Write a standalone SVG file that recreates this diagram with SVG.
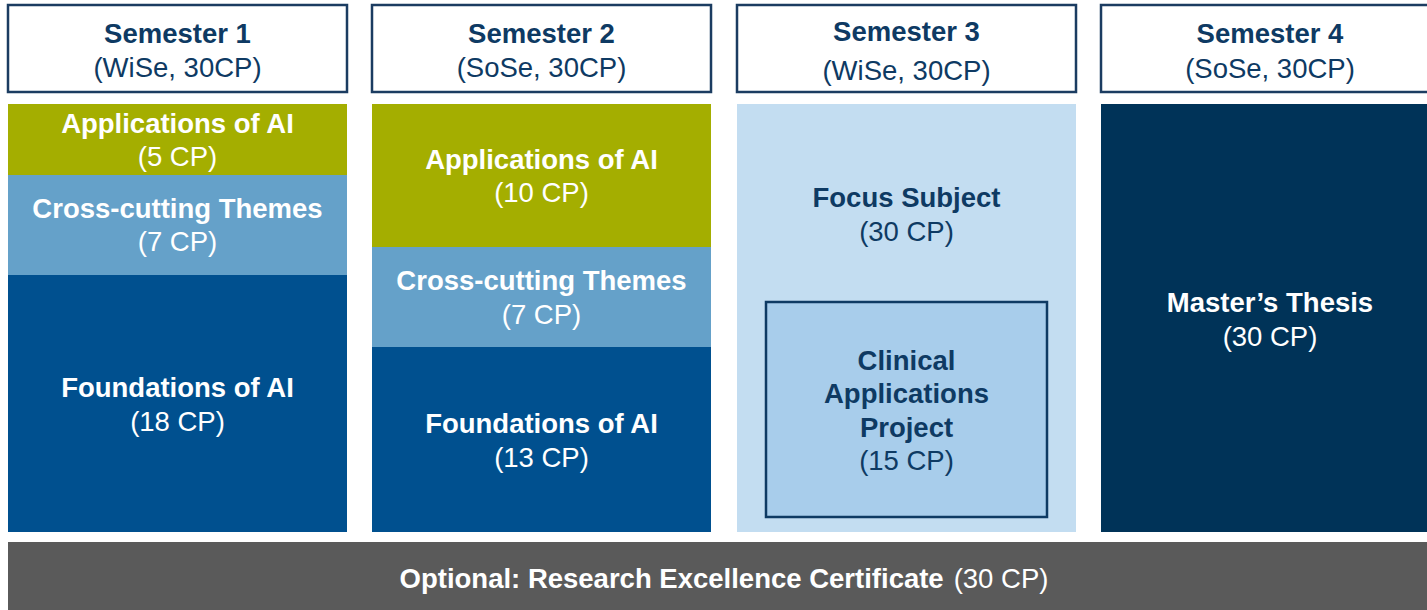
<svg xmlns="http://www.w3.org/2000/svg" width="1427" height="610" viewBox="0 0 1427 610">
<style>
text{font-family:"Liberation Sans",Arial,sans-serif;font-size:27.5px;text-anchor:middle}
.b{font-weight:bold}
.hdr{fill:#fff;stroke:#1b3c61;stroke-width:2.5}
.dk{fill:#0e3a63}
.wt{fill:#fff}
.green{fill:#a4ae00}
.lb{fill:#65a1c9}
.fd{fill:#00508f}
</style>
<rect width="1427" height="610" fill="#fff"/>
<g id="sem1">
<rect class="hdr" x="8" y="5" width="339" height="87"/>
<text class="b dk" x="177.5" y="43">Semester 1</text>
<text class="dk" x="177.5" y="77">(WiSe, 30CP)</text>
</g>
<g id="sem2">
<rect class="hdr" x="372" y="5" width="339" height="87"/>
<text class="b dk" x="541.5" y="43">Semester 2</text>
<text class="dk" x="541.5" y="77">(SoSe, 30CP)</text>
</g>
<g id="sem3">
<rect class="hdr" x="737" y="5" width="339" height="87"/>
<text class="b dk" x="906.5" y="41">Semester 3</text>
<text class="dk" x="906.5" y="80">(WiSe, 30CP)</text>
</g>
<g id="sem4">
<rect class="hdr" x="1101" y="5" width="340" height="87"/>
<text class="b dk" x="1270" y="43">Semester 4</text>
<text class="dk" x="1270" y="78">(SoSe, 30CP)</text>
</g>
<g id="s1-app">
<rect class="green" x="8" y="104" width="339" height="71"/>
<text class="b wt" x="177.5" y="133">Applications of AI</text>
<text class="wt" x="177.5" y="166">(5 CP)</text>
</g>
<g id="s1-cross">
<rect class="lb" x="8" y="175" width="339" height="100"/>
<text class="b wt" x="177.5" y="218">Cross-cutting Themes</text>
<text class="wt" x="177.5" y="251">(7 CP)</text>
</g>
<g id="s1-found">
<rect class="fd" x="8" y="275" width="339" height="257"/>
<text class="b wt" x="177.5" y="397">Foundations of AI</text>
<text class="wt" x="177.5" y="431">(18 CP)</text>
</g>
<g id="s2-app">
<rect class="green" x="372" y="104" width="339" height="143"/>
<text class="b wt" x="541.5" y="169">Applications of AI</text>
<text class="wt" x="541.5" y="202">(10 CP)</text>
</g>
<g id="s2-cross">
<rect class="lb" x="372" y="247" width="339" height="100"/>
<text class="b wt" x="541.5" y="290">Cross-cutting Themes</text>
<text class="wt" x="541.5" y="324">(7 CP)</text>
</g>
<g id="s2-found">
<rect class="fd" x="372" y="347" width="339" height="185"/>
<text class="b wt" x="541.5" y="433">Foundations of AI</text>
<text class="wt" x="541.5" y="467">(13 CP)</text>
</g>
<g id="s3-focus">
<rect x="737" y="104" width="339" height="428" fill="#c3ddf1"/>
<text class="b dk" x="906.5" y="207">Focus Subject</text>
<text class="dk" x="906.5" y="241">(30 CP)</text>
</g>
<g id="s3-clinical">
<rect x="766" y="302" width="281" height="215" fill="#a8cdeb" stroke="#0e3a63" stroke-width="2.5"/>
<text class="b dk" x="906.5" y="370">Clinical</text>
<text class="b dk" x="906.5" y="403">Applications</text>
<text class="b dk" x="906.5" y="437">Project</text>
<text class="dk" x="906.5" y="470">(15 CP)</text>
</g>
<g id="s4-thesis">
<rect x="1101" y="104" width="340" height="428" fill="#003358"/>
<text class="b wt" x="1270" y="312">Master’s Thesis</text>
<text class="wt" x="1270" y="346">(30 CP)</text>
</g>
<g id="rec">
<rect x="8" y="542" width="1430" height="70" fill="#5a5a5a"/>
<text class="wt" x="724" y="588"><tspan class="b">Optional: Research Excellence Certificate</tspan><tspan dx="10">(30 CP)</tspan></text>
</g>
<g id="connectors"/>
</svg>
